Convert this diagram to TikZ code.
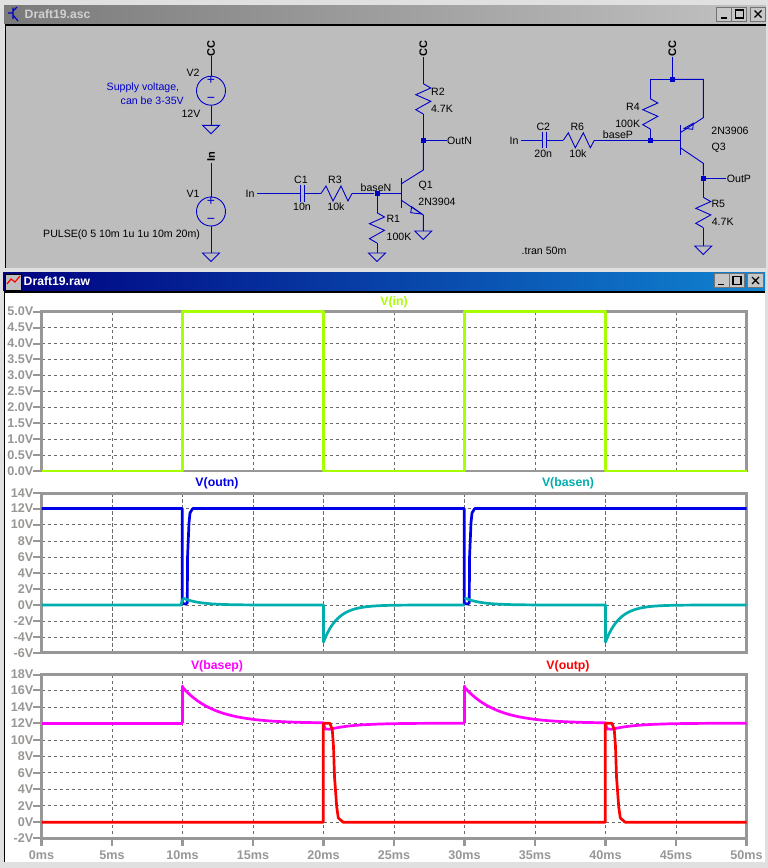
\documentclass[tikz,border=0pt]{standalone}
\usepackage{fontspec}
\setmainfont{Liberation Sans}
\definecolor{wireblue}{HTML}{0000C8}
\definecolor{framegray}{HTML}{999795}
\definecolor{griddark}{HTML}{6A6A6A}
\definecolor{tin}{HTML}{A8FF00}
\definecolor{toutn}{HTML}{0000E8}
\definecolor{tbasen}{HTML}{00AEAE}
\definecolor{tbasep}{HTML}{FF00FF}
\definecolor{toutp}{HTML}{FF0000}
\tikzset{
  wire/.style={draw=wireblue,line width=0.9pt},
  lbl/.style={inner sep=0pt,font=\fontsize{10.6}{12}\selectfont,text=black},
  flag/.style={lbl,rotate=90,font=\fontsize{11}{12}\selectfont\bfseries},
  note/.style={lbl,text=wireblue},
  junc/.style={fill=wireblue,inner sep=0pt,minimum size=5pt,rectangle},
  src/.style={circle,draw=wireblue,line width=0.9pt,minimum size=29pt,inner sep=0pt},
  sgn/.style={inner sep=0pt,text=wireblue,font=\fontsize{14}{14}\selectfont},
  title/.style={anchor=west,inner sep=0pt,font=\fontsize{12.2}{14}\selectfont\bfseries},
  axlab/.style={inner sep=0pt,text=framegray,font=\fontsize{12.6}{14}\selectfont\bfseries},
  tname/.style={inner sep=0pt,font=\fontsize{12.3}{14}\selectfont\bfseries},
  grid/.style={draw=griddark,line width=0.7pt,dash pattern=on 3.2pt off 2.8pt},
  frame/.style={draw=framegray,line width=2.7pt},
  trace/.style={line width=2.7pt,line join=round},
  btn/.style={fill=black!22,draw=black!55,line width=0.7pt},
  pics/resv/.style={code={\draw[wire] (0,0) -- (7.5,4.3) -- (-7.5,11) -- (7.5,17.6) -- (-7.5,26) -- (0,30.3);}},
  pics/resh/.style={code={\draw[wire] (0,0) -- (5,-7.5) -- (12,7.5) -- (20,-7.5) -- (27,7.5) -- (31,0);}},
  pics/gnd/.style={code={\draw[wire] (-8.5,0) -- (8.5,0) -- (0,8.5) -- cycle;}},
  pics/winbtns/.style={code={
    \draw[btn] (0,0) rectangle (15,14);
    \draw[btn] (15,0) rectangle (30,14);
    \draw[btn] (33.5,0) rectangle (49,14);
    \draw[black,line width=1.6pt] (4,11) -- (10,11);
    \draw[black,line width=1.2pt] (19,3) rectangle (27,11);
    \draw[black,line width=1.3pt] (38,3.5) -- (45,10.5) (45,3.5) -- (38,10.5);
  }}
}
\begin{document}
\begin{tikzpicture}[x=1pt,y=-1pt]
  \useasboundingbox (0,0) rectangle (768,868);
  % window frames
  \fill[black!12] (0,0) rectangle (768,868);
  \shade[left color=black!52,right color=black!24] (4,5) rectangle (766,23);
  \fill[black] (4.5,24) rectangle (766,268);
  \fill[black!26] (6,25.5) rectangle (766,268);
  \shade[left color=blue!50!black,right color={rgb,255:red,16;green,132;blue,208}] (3,272) rectangle (765,290);
  \fill[black] (3.5,291) rectangle (765,862);
  \fill[white] (5,293) rectangle (764.5,862);
  \node[title,text=black!18] (asctitle) at (24.5,14) {Draft19.asc};
  \node[title,text=white] (rawtitle) at (23.5,281) {Draft19.raw};
  \pic at (716.5,7) {winbtns};
  \pic at (714,273.5) {winbtns};
  % window icons
  \draw[wire,line width=1.2pt] (13,7.5) -- (13,19) (8,13) -- (13,13) (13,11) -- (17,7) (13,15) -- (18,21);
  \fill[black!25,draw=black] (5,274) rectangle (21,290);
  \draw[red,line width=1.2pt] (7,284) -- (11,279) -- (15,282) -- (20,276);
  % supply and pulse sources
  \node[flag] (ccv) at (211,48.5) {CC};
  \coordinate (v2t) at (211,56);
  \node[src] (V2) at (211,90.7) {};
  \node[sgn] (V2p) at (211,80.5) {+};
  \node[sgn] (V2m) at (211,100) {−};
  \coordinate (g2) at (211,125.3);
  \draw[wire] (v2t) -- (V2);
  \draw[wire] (V2) -- (g2);
  \pic at (g2) {gnd};
  \node[lbl] (V2name) at (193,72.5) {V2};
  \node[lbl] (V2val) at (191,113.5) {12V};
  \node[note,anchor=west] (supa) at (106.5,88) {Supply voltage,};
  \node[note,anchor=west] (supb) at (120.5,100.5) {can be 3-35V};
  \node[flag] (inv) at (211,157) {In};
  \coordinate (v1t) at (211,163);
  \node[src] (V1) at (211,211.5) {};
  \node[sgn] (V1p) at (211,201.8) {+};
  \node[sgn] (V1m) at (211,221) {−};
  \coordinate (g1) at (211,253);
  \draw[wire] (v1t) -- (V1);
  \draw[wire] (V1) -- (g1);
  \pic at (g1) {gnd};
  \node[lbl] (V1name) at (193,194) {V1};
  \node[lbl,anchor=west] (pulse) at (43,235) {PULSE(0 5 10m 1u 1u 10m 20m)};
  % npn stage
  \node[flag] (ccn) at (423.3,48.5) {CC};
  \coordinate (r2t) at (423.3,83.7);
  \coordinate (r2b) at (423.3,114);
  \node[junc] (joutn) at (423.3,140.5) {};
  \coordinate (colq1) at (423.3,170);
  \coordinate (cq1) at (401,184);
  \coordinate (eq1) at (401,200);
  \coordinate (emq1) at (423.3,215);
  \coordinate (gq1) at (423.3,231);
  \coordinate (btq1) at (401,178);
  \coordinate (bbq1) at (401,208);
  \coordinate (outnw) at (447,140.5);
  \coordinate (ccnw) at (423.3,57);
  \draw[wire] (ccnw) -- (r2t);
  \pic at (r2t) {resv};
  \draw[wire] (r2b) -- (joutn);
  \draw[wire] (joutn) -- (outnw);
  \draw[wire] (joutn) -- (colq1) -- (cq1);
  \draw[wire] (btq1) -- (bbq1);
  \draw[wire] (eq1) -- (emq1) -- (gq1);
  \draw[wire] (411.7,206.7) -- (410.7,212.7) -- (421.7,214) -- cycle;
  \pic at (gq1) {gnd};
  \coordinate (inq1) at (257.3,193.5);
  \coordinate (c1a) at (300,193.5);
  \coordinate (c1b) at (304,193.5);
  \coordinate (r3a) at (321,193.5);
  \coordinate (r3b) at (352,193.5);
  \node[junc] (jbasen) at (377,193.5) {};
  \coordinate (bq1) at (401,193.5);
  \coordinate (r1t) at (377,212.7);
  \coordinate (r1b) at (377,243);
  \coordinate (gr1) at (377,253);
  \draw[wire] (inq1) -- (c1a);
  \draw[wire] (300,185) -- (300,202);
  \draw[wire] (304,185) -- (304,202);
  \draw[wire] (c1b) -- (r3a);
  \pic at (r3a) {resh};
  \draw[wire] (r3b) -- (jbasen);
  \draw[wire] (jbasen) -- (bq1);
  \draw[wire] (jbasen) -- (r1t);
  \pic at (r1t) {resv};
  \draw[wire] (r1b) -- (gr1);
  \pic at (gr1) {gnd};
  \node[lbl] (inn) at (250,194) {In};
  \node[lbl] (C1name) at (301,180) {C1};
  \node[lbl] (C1val) at (302,207) {10n};
  \node[lbl] (R3name) at (335,180) {R3};
  \node[lbl] (R3val) at (336,207) {10k};
  \node[lbl] (basen) at (376,187.3) {baseN};
  \node[lbl] (R1name) at (393.3,219.3) {R1};
  \node[lbl] (R1val) at (399,236.7) {100K};
  \node[lbl] (R2name) at (438,91.7) {R2};
  \node[lbl] (R2val) at (442,108.7) {4.7K};
  \node[lbl,anchor=west] (outn) at (447,141) {OutN};
  \node[lbl] (Q1name) at (425.7,186) {Q1};
  \node[lbl] (Q1val) at (437,202) {2N3904};
  % pnp stage
  \node[flag] (ccp) at (672.3,48.5) {CC};
  \coordinate (ccpw) at (672.3,56.7);
  \node[junc] (jcc) at (672.3,79.3) {};
  \coordinate (r4c) at (650.3,79.3);
  \coordinate (r4t) at (650.3,98.7);
  \coordinate (r4b) at (650.3,129);
  \node[junc] (jbasep) at (650.3,140.3) {};
  \coordinate (emc) at (703.3,79.3);
  \coordinate (emq3) at (703.3,117.7);
  \coordinate (eq3) at (680.3,132.7);
  \coordinate (bq3) at (680.3,140.3);
  \coordinate (btq3) at (680.3,125);
  \coordinate (bbq3) at (680.3,155);
  \coordinate (cq3) at (680.3,147.7);
  \coordinate (colq3) at (703.3,163.3);
  \node[junc] (joutp) at (703.3,178.3) {};
  \coordinate (outpw) at (726,178.3);
  \coordinate (r5t) at (703.3,197.3);
  \coordinate (r5b) at (703.3,227.6);
  \coordinate (gr5) at (703.3,246);
  \draw[wire] (ccpw) -- (jcc);
  \draw[wire] (jcc) -- (r4c) -- (r4t);
  \pic at (r4t) {resv};
  \draw[wire] (r4b) -- (jbasep);
  \draw[wire] (jcc) -- (emc) -- (emq3) -- (eq3);
  \draw[wire] (btq3) -- (bbq3);
  \draw[wire] (684.3,128.3) -- (693.3,123.3) -- (692.7,129.3) -- cycle;
  \draw[wire] (jbasep) -- (bq3);
  \draw[wire] (cq3) -- (colq3) -- (joutp);
  \draw[wire] (joutp) -- (outpw);
  \draw[wire] (joutp) -- (r5t);
  \pic at (r5t) {resv};
  \draw[wire] (r5b) -- (gr5);
  \pic at (gr5) {gnd};
  \coordinate (inq3) at (521.3,140.3);
  \coordinate (c2a) at (542.7,140.3);
  \coordinate (c2b) at (546.7,140.3);
  \coordinate (r6a) at (563.3,140.3);
  \coordinate (r6b) at (594.3,140.3);
  \draw[wire] (inq3) -- (c2a);
  \draw[wire] (542.7,132) -- (542.7,148);
  \draw[wire] (546.7,132) -- (546.7,148);
  \draw[wire] (c2b) -- (r6a);
  \pic at (r6a) {resh};
  \draw[wire] (r6b) -- (jbasep);
  \node[lbl] (inp) at (514,141) {In};
  \node[lbl] (C2name) at (543.3,126.7) {C2};
  \node[lbl] (C2val) at (543.3,153.7) {20n};
  \node[lbl] (R6name) at (577.3,126.7) {R6};
  \node[lbl] (R6val) at (578,153.7) {10k};
  \node[lbl] (basep) at (618,134.7) {baseP};
  \node[lbl] (R4name) at (633,106.7) {R4};
  \node[lbl] (R4val) at (627.7,123.7) {100K};
  \node[lbl] (Q3val) at (730,130.7) {2N3906};
  \node[lbl] (Q3name) at (718.7,147.7) {Q3};
  \node[lbl,anchor=west] (outp) at (726.7,178.5) {OutP};
  \node[lbl] (R5name) at (718.3,204.3) {R5};
  \node[lbl] (R5val) at (722.7,221.7) {4.7K};
  \node[lbl] (tran) at (544,250.7) {.tran 50m};
  % grids
  \foreach \x in {112,182.5,253,323.5,394,464.5,535,605.5,676} {
    \draw[grid] (\x,311.5) -- (\x,471);
    \draw[grid] (\x,493.3) -- (\x,652.7);
    \draw[grid] (\x,674.5) -- (\x,838.3);
  }
  \foreach \y in {327.5,343.5,359.4,375.4,391.3,407.3,423.2,439.2,455.1}
    \draw[grid] (41.5,\y) -- (746.5,\y);
  \foreach \y in {508.5,524.5,541,557,573,589,605,621,637}
    \draw[grid] (41.5,\y) -- (746.5,\y);
  \foreach \y in {690.3,707,723.2,740,756.3,772.8,789.3,805.8,822.3}
    \draw[grid] (41.5,\y) -- (746.5,\y);
  % plot frames and ticks
  \draw[frame] (41.5,311.5) rectangle (746.5,471);
  \draw[frame] (41.5,493.3) rectangle (746.5,652.7);
  \draw[frame] (41.5,674.5) rectangle (746.5,838.3);
  \foreach \v/\y [count=\i] in {5.0/311.5,4.5/327.5,4.0/343.5,3.5/359.4,3.0/375.4,2.5/391.3,2.0/407.3,1.5/423.2,1.0/439.2,0.5/455.1,0.0/471} {
    \draw[frame,line width=2pt] (33,\y) -- (41.5,\y);
    \node[axlab,anchor=east] (ya\i) at (33.5,\y) {\v V};
  }
  \foreach \v/\y [count=\i] in {14/493.3,12/508.5,10/524.5,8/541,6/557,4/573,2/589,0/605,-2/621,-4/637,-6/652.7} {
    \draw[frame,line width=2pt] (33,\y) -- (41.5,\y);
    \node[axlab,anchor=east] (yb\i) at (33.5,\y) {\v V};
  }
  \foreach \v/\y [count=\i] in {18/674.5,16/690.3,14/707,12/723.2,10/740,8/756.3,6/772.8,4/789.3,2/805.8,0/822.3,-2/838.3} {
    \draw[frame,line width=2pt] (33,\y) -- (41.5,\y);
    \node[axlab,anchor=east] (yc\i) at (33.5,\y) {\v V};
  }
  \foreach \t/\x [count=\i] in {0/41.5,5/112,10/182.5,15/253,20/323.5,25/394,30/464.5,35/535,40/605.5,45/676,50/746.5} {
    \draw[frame,line width=2.4pt] (\x,838.3) -- (\x,846);
    \node[axlab] (xt\i) at (\x,855) {\t ms};
  }
  % traces
  \draw[trace,tin] (41.5,471) -- (182.5,471) -- (182.5,311.5) -- (323.5,311.5) -- (323.5,471)
    -- (464.5,471) -- (464.5,311.5) -- (605.5,311.5) -- (605.5,471) -- (746.5,471);
  \draw[trace,toutn] (41.5,508.5) -- (182.3,508.5) -- (182.3,603.5) -- (185.5,604) -- (187.3,603) -- (187.5,558)
    -- (189,523) -- (190,513) -- (192.7,508.5) -- (464.3,508.5) -- (464.3,603.5) -- (467.5,604) -- (469.3,603)
    -- (469.5,558) -- (471,523) -- (472,513) -- (474.7,508.5) -- (746.5,508.5);
  \draw[trace,tbasen] (41.5,605) -- (181,605) -- (182.5,599);
  \foreach \off in {0,282} {
    \begin{scope}[xshift=\off pt]
      \draw[trace,tbasen] (182.5,599) -- plot[domain=184:323.5,samples=40] (\x,{605-6.5*exp(-(\x-184)/16)})
        -- (323.5,642) -- plot[domain=323.5:464.5,samples=50] (\x,{605+37*exp(-(\x-323.5)/14)});
      \draw[trace,tbasep] (182.5,723.2) -- (182.5,686) -- plot[domain=182.5:323.5,samples=40] (\x,{723.2-36*exp(-(\x-182.5)/31.6)})
        -- (325,729) -- plot[domain=330:464.5,samples=30] (\x,{723.2+6*exp(-(\x-330)/25)});
    \end{scope}
  }
  \draw[trace,tbasep] (41.5,723.2) -- (182.5,723.2);
  \draw[trace,toutp] (41.5,822.3) -- (323.3,822.3) -- (323.3,723.3) -- (330,723.3) -- (332.3,730) -- (333.5,746.7)
    -- (334.5,776.7) -- (335.7,793) -- (336.7,806.7) -- (338.3,818) -- (343.3,822.3) -- (605.3,822.3) -- (605.3,723.3)
    -- (612,723.3) -- (614.3,730) -- (615.5,746.7) -- (616.5,776.7) -- (617.7,793) -- (618.7,806.7) -- (620.3,818)
    -- (625.3,822.3) -- (746.5,822.3);
  \node[tname,text=tin] (vin) at (394,302) {V(in)};
  \node[tname,text=toutn] (voutn) at (217,483) {V(outn)};
  \node[tname,text=tbasen] (vbasen) at (568,483) {V(basen)};
  \node[tname,text=tbasep] (vbasep) at (217,666) {V(basep)};
  \node[tname,text=toutp] (voutp) at (568,666) {V(outp)};
\end{tikzpicture}
\end{document}
